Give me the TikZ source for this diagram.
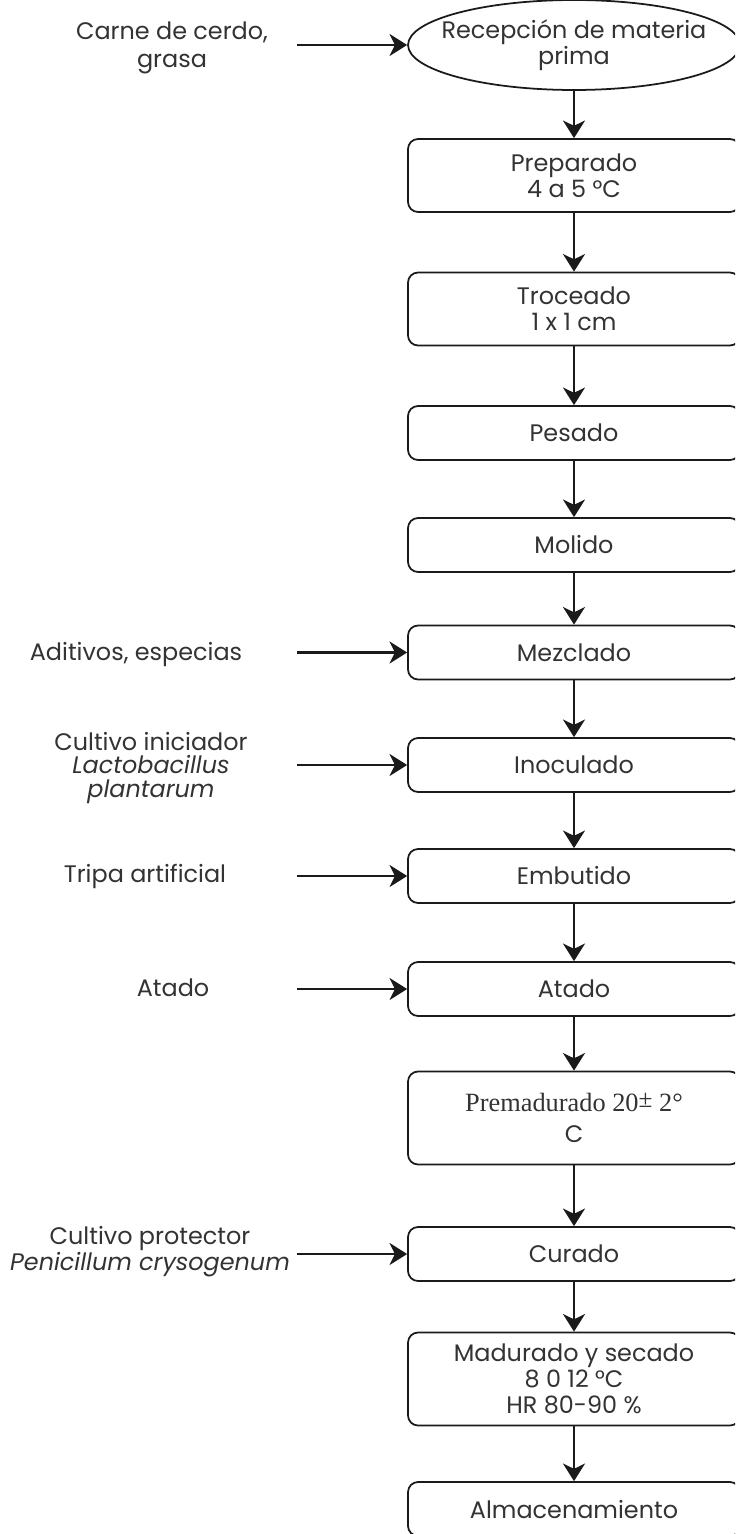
\documentclass[tikz,border=0pt]{standalone}
\usepackage{fontspec}
\setmainfont{Poppins}
\newfontfamily\serifa{Liberation Serif}
\usetikzlibrary{shapes.geometric,arrows.meta,positioning}

\definecolor{texto}{HTML}{333333}
\definecolor{linea}{HTML}{1A1A1A}

\tikzset{
  flecha/.style={draw=linea,line width=1.4pt,-{Stealth[length=10pt,width=12.5pt,inset=3pt]}},
  paso/.style={draw=linea,line width=1pt,rounded corners=0.2cm,minimum width=6.64cm,minimum height=1.08cm,inner sep=0pt,align=center,text=texto,font=\fontsize{13.6}{13.6}\selectfont},
  alto2/.style={minimum height=1.46cm},
  alto3/.style={minimum height=1.86cm},
  inicio/.style={draw=linea,line width=1pt,ellipse,minimum width=6.64cm,minimum height=1.8cm,inner sep=0pt},
  etiq/.style={align=center,text=texto,inner sep=0pt,font=\fontsize{13.6}{13.6}\selectfont}
}

\begin{document}
\begin{tikzpicture}[x=0.02cm,y=-0.02cm]
\clip (0,0) rectangle (735,1534);
\fill[white] (0,0) rectangle (735,1534);
% columna principal
\node[inicio] (recep) at (574,45) {};
\node[etiq,font=\fontsize{13.6}{14.8}\selectfont] (receptxt) at (recep) {Recepción de materia\\prima};
\node[paso,alto2] (prep) at (574,175.5) {Preparado\\[1pt]4 a 5 °C};
\node[paso,alto2] (troc) at (574,309) {Troceado\\[1pt]1 x 1 cm};
\node[paso] (pesa) at (574,433) {Pesado};
\node[paso] (moli) at (574,545) {Molido};
\node[paso] (mezc) at (574,652.5) {Mezclado};
\node[paso] (inoc) at (574,765) {Inoculado};
\node[paso] (embu) at (574,876) {Embutido};
\node[paso] (atad) at (574,989) {Atado};
\node[paso,alto3] (prem) at (574,1118) {{\serifa\fontsize{15}{15}\selectfont Premadurado 20\raisebox{.3ex}{\Large ±} 2°}\\[4pt]C};
\node[paso] (cura) at (574,1254) {Curado};
\node[paso,alto3] (madu) at (574,1379) {Madurado y secado\\[1pt]8 0 12 °C\\[1pt]HR 80-90 \%};
\node[paso] (alma) at (574,1509) {Almacenamiento};
% entradas
\node[etiq] (carne) at (172,48) {Carne de cerdo,\\[2pt]grasa};
\node[etiq] (aditi) at (136,655) {Aditivos, especias};
\node[etiq] (culti) at (151,768) {Cultivo iniciador\\\textit{Lactobacillus}\\\textit{plantarum}};
\node[etiq] (tripa) at (145,876) {Tripa artificial};
\node[etiq] (atado) at (173,988) {Atado};
\node[etiq] (prote) at (150,1252) {Cultivo protector\\\textit{Penicillum crysogenum}};
\coordinate (xin) at (297,0);
% flechas
\draw[flecha] (recep.south) -- (prep.north);
\foreach \a/\b in {prep/troc,troc/pesa,pesa/moli,moli/mezc,mezc/inoc,inoc/embu,embu/atad,atad/prem,prem/cura,cura/madu,madu/alma}
  \draw[flecha] (\a.south) -- (\b.north);
\foreach \n in {recep,mezc,inoc,embu,atad,cura}
  \draw[flecha] (xin |- \n.west) -- (\n.west);
\end{tikzpicture}
\end{document}
